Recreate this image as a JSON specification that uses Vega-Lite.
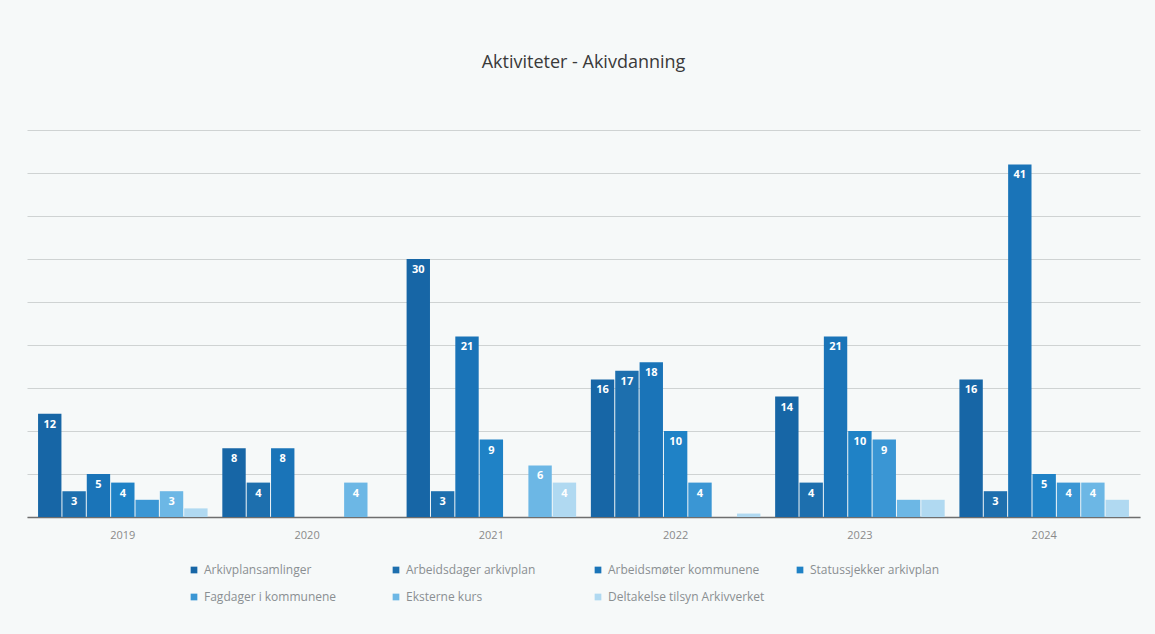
{
  "$schema": "https://vega.github.io/schema/vega-lite/v6.json",
  "width": 1113,
  "height": 387,
  "autosize": {"type": "none"},
  "padding": {"left": 27, "top": 130, "right": 15, "bottom": 117},
  "background": "#f6f9f9",
  "title": {"text": "Aktiviteter - Akivdanning", "fontSize": 18, "font": "Open Sans", "fontWeight": 500, "color": "#3a3a3a", "offset": 58, "anchor": "middle"},
  "config": {"view": {"stroke": null}, "font": "Open Sans"},
  "data": {"values": [
    {"year": "2019", "serie": "Arkivplansamlinger", "value": 12},
    {"year": "2019", "serie": "Arbeidsdager arkivplan", "value": 3},
    {"year": "2019", "serie": "Arbeidsmøter kommunene", "value": 5},
    {"year": "2019", "serie": "Statussjekker arkivplan", "value": 4},
    {"year": "2019", "serie": "Fagdager i kommunene", "value": 2},
    {"year": "2019", "serie": "Eksterne kurs", "value": 3},
    {"year": "2019", "serie": "Deltakelse tilsyn Arkivverket", "value": 1},
    {"year": "2020", "serie": "Arkivplansamlinger", "value": 8},
    {"year": "2020", "serie": "Arbeidsdager arkivplan", "value": 4},
    {"year": "2020", "serie": "Arbeidsmøter kommunene", "value": 8},
    {"year": "2020", "serie": "Statussjekker arkivplan", "value": 0},
    {"year": "2020", "serie": "Fagdager i kommunene", "value": 0},
    {"year": "2020", "serie": "Eksterne kurs", "value": 4},
    {"year": "2020", "serie": "Deltakelse tilsyn Arkivverket", "value": 0},
    {"year": "2021", "serie": "Arkivplansamlinger", "value": 30},
    {"year": "2021", "serie": "Arbeidsdager arkivplan", "value": 3},
    {"year": "2021", "serie": "Arbeidsmøter kommunene", "value": 21},
    {"year": "2021", "serie": "Statussjekker arkivplan", "value": 9},
    {"year": "2021", "serie": "Fagdager i kommunene", "value": 0},
    {"year": "2021", "serie": "Eksterne kurs", "value": 6},
    {"year": "2021", "serie": "Deltakelse tilsyn Arkivverket", "value": 4},
    {"year": "2022", "serie": "Arkivplansamlinger", "value": 16},
    {"year": "2022", "serie": "Arbeidsdager arkivplan", "value": 17},
    {"year": "2022", "serie": "Arbeidsmøter kommunene", "value": 18},
    {"year": "2022", "serie": "Statussjekker arkivplan", "value": 10},
    {"year": "2022", "serie": "Fagdager i kommunene", "value": 4},
    {"year": "2022", "serie": "Eksterne kurs", "value": 0},
    {"year": "2022", "serie": "Deltakelse tilsyn Arkivverket", "value": 0.4},
    {"year": "2023", "serie": "Arkivplansamlinger", "value": 14},
    {"year": "2023", "serie": "Arbeidsdager arkivplan", "value": 4},
    {"year": "2023", "serie": "Arbeidsmøter kommunene", "value": 21},
    {"year": "2023", "serie": "Statussjekker arkivplan", "value": 10},
    {"year": "2023", "serie": "Fagdager i kommunene", "value": 9},
    {"year": "2023", "serie": "Eksterne kurs", "value": 2},
    {"year": "2023", "serie": "Deltakelse tilsyn Arkivverket", "value": 2},
    {"year": "2024", "serie": "Arkivplansamlinger", "value": 16},
    {"year": "2024", "serie": "Arbeidsdager arkivplan", "value": 3},
    {"year": "2024", "serie": "Arbeidsmøter kommunene", "value": 41},
    {"year": "2024", "serie": "Statussjekker arkivplan", "value": 5},
    {"year": "2024", "serie": "Fagdager i kommunene", "value": 4},
    {"year": "2024", "serie": "Eksterne kurs", "value": 4},
    {"year": "2024", "serie": "Deltakelse tilsyn Arkivverket", "value": 2}
  ]},
  "encoding": {
    "x": {"field": "year", "type": "nominal", "title": null,
      "scale": {"paddingInner": 0.08, "paddingOuter": 0.06},
      "axis": {"labelAngle": 0, "labelColor": "#8a8a8a", "labelFontSize": 11, "labelPadding": 12, "ticks": false, "domainColor": "#6e6e6e", "domainWidth": 1.5}},
    "xOffset": {"field": "serie", "type": "nominal",
      "sort": ["Arkivplansamlinger", "Arbeidsdager arkivplan", "Arbeidsmøter kommunene", "Statussjekker arkivplan", "Fagdager i kommunene", "Eksterne kurs", "Deltakelse tilsyn Arkivverket"],
      "scale": {"paddingInner": 0.04, "paddingOuter": 0}},
    "y": {"field": "value", "type": "quantitative", "title": null,
      "scale": {"domain": [0, 45]},
      "axis": {"values": [0, 5, 10, 15, 20, 25, 30, 35, 40, 45], "labels": false, "ticks": false, "domain": false, "gridColor": "#cfd3d3", "gridWidth": 1.2}}
  },
  "layer": [
    {
      "mark": {"type": "bar"},
      "encoding": {
        "color": {"field": "serie", "type": "nominal", "title": null,
          "sort": ["Arkivplansamlinger", "Arbeidsdager arkivplan", "Arbeidsmøter kommunene", "Statussjekker arkivplan", "Fagdager i kommunene", "Eksterne kurs", "Deltakelse tilsyn Arkivverket"],
          "scale": {"range": ["#1766a6", "#1d6fae", "#1a74b8", "#1f82c6", "#3a96d4", "#6cb7e5", "#b0d9f1"]},
          "legend": {"orient": "none", "legendX": 161, "legendY": 434, "columns": 4, "direction": "horizontal", "gridAlign": "all", "columnPadding": 29, "rowPadding": 15, "symbolType": "square", "symbolSize": 45, "symbolStrokeWidth": 0, "labelFontSize": 12, "labelColor": "#8a8f92", "labelLimit": 250, "symbolOffset": 0}}
      }
    },
    {
      "transform": [{"filter": "datum.value >= 3"}],
      "mark": {"type": "text", "baseline": "top", "dy": 5, "color": "white", "fontSize": 11, "fontWeight": "bold"},
      "encoding": {"text": {"field": "value", "type": "quantitative"}}
    }
  ]
}
